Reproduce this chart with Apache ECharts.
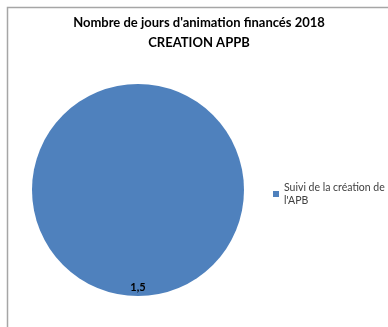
<!DOCTYPE html>
<html><head><meta charset="utf-8">
<script src="https://cdn.jsdelivr.net/npm/echarts@6/dist/echarts.min.js"></script>
<style>html,body{margin:0;padding:0;background:#fff}#c{width:388px;height:327px}</style>
</head><body><div id="c"></div>
<script>
const categories = ["Suivi de la création de l'APB"];
const values = [1.5];
const titleLines = ["Nombre de jours d'animation financés 2018", "CREATION APPB"];

const chart = echarts.init(document.getElementById('c'), null, {renderer: 'canvas'});
chart.setOption({
  animation: false,
  backgroundColor: '#fff',
  graphic: [
    {type: 'polyline', shape: {points: [[7.5, 327], [7.5, 7.5], [388, 7.5]]}, style: {stroke: '#a6a6a6', lineWidth: 1.5, fill: null}}
  ],
  title: {
    text: titleLines.join('\n'),
    left: 194, top: 8, textAlign: 'center',
    textStyle: {fontFamily: 'Lato', fontWeight: 'bold', fontSize: 13, color: '#000', lineHeight: 20}
  },
  legend: {
    orient: 'vertical', left: 268, top: 176,
    itemWidth: 6, itemHeight: 6, itemGap: 4, icon: 'rect',
    textStyle: {fontFamily: 'Lato', fontSize: 10.5, color: '#404040', width: 112, overflow: 'break', lineHeight: 13},
    data: categories
  },
  series: [{
    type: 'pie',
    center: [138, 190], radius: 106,
    startAngle: 90, clockwise: true,
    itemStyle: {color: '#4F81BD'},
    label: {
      show: true, position: 'inside',
      formatter: function (p) { return p.value.toFixed(1).replace('.', ','); },
      fontFamily: 'Lato', fontWeight: 'bold', fontSize: 11, color: '#000',
      offset: [0, 41]
    },
    labelLine: {show: false},
    emphasis: {disabled: true},
    data: categories.map((c, i) => ({name: c, value: values[i]}))
  }]
});
</script></body></html>
